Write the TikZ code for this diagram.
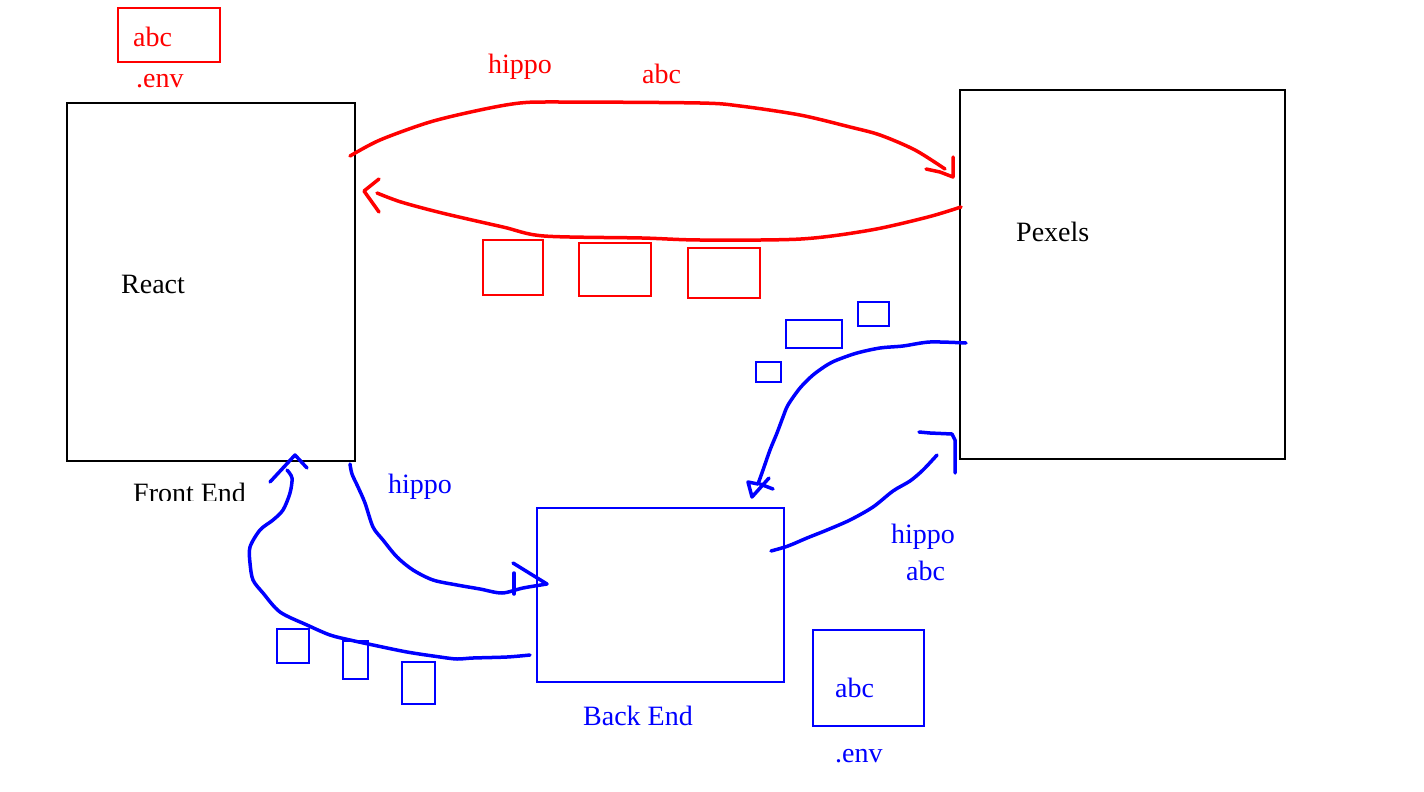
\documentclass[tikz,border=0pt]{standalone}
\usepackage{fontspec}
\setmainfont{Liberation Serif}
\begin{document}
\begin{tikzpicture}[x=1pt,y=-1pt,
  box/.style={draw, line width=2pt, inner sep=0pt, anchor=north west},
  lbl/.style={inner sep=0pt, anchor=base west, font=\fontsize{28}{32}\selectfont},
  redpen/.style={draw=red, line width=3.5pt, line cap=round, line join=round},
  bluepen/.style={draw=blue, line width=3.5pt, line cap=round, line join=round},
  smoothpath/.style={smooth, tension=0.5}]
\fill[white] (0,0) rectangle (1424,792);
\useasboundingbox (0,0) rectangle (1424,792);

% main boxes
\node[box, draw=black, minimum width=288pt, minimum height=358pt] (react) at (66,102) {};
\node[box, draw=black, minimum width=325pt, minimum height=369pt] (pexels) at (959,89) {};
\node[box, draw=blue, minimum width=247pt, minimum height=174pt] (backend) at (536,507) {};
\node[box, draw=red, minimum width=102pt, minimum height=54pt] (envfront) at (117,7) {};
\node[box, draw=blue, minimum width=111pt, minimum height=96pt] (envback) at (812,629) {};

% small red boxes
\node[box, draw=red, minimum width=60pt, minimum height=55pt] (r1) at (482,239) {};
\node[box, draw=red, minimum width=72pt, minimum height=53pt] (r2) at (578,242) {};
\node[box, draw=red, minimum width=72pt, minimum height=50pt] (r3) at (687,247) {};

% small blue boxes (upper right)
\node[box, draw=blue, minimum width=56pt, minimum height=28pt] (b1) at (785,319) {};
\node[box, draw=blue, minimum width=31pt, minimum height=24pt] (b2) at (857,301) {};
\node[box, draw=blue, minimum width=25pt, minimum height=20pt] (b3) at (755,361) {};
% small blue boxes (lower left)
\node[box, draw=blue, minimum width=32pt, minimum height=34pt] (b4) at (276,628) {};
\node[box, draw=blue, minimum width=25pt, minimum height=38pt] (b5) at (342,640) {};
\node[box, draw=blue, minimum width=33pt, minimum height=42pt] (b6) at (401,661) {};

% labels
\node[lbl, text=red] (tabc1) at (133,47) {abc};
\node[lbl, text=red] (tenv1) at (136,88) {.env};
\node[lbl] (treact) at (121,293) {React};
\begin{scope}
\clip (100,460) rectangle (300,500);
\node[lbl] (tfront) at (133,502) {Front End};
\end{scope}
\node[lbl] (tpexels) at (1016,241) {Pexels};
\node[lbl, text=red] (thippo1) at (488,74) {hippo};
\node[lbl, text=red] (tabc2) at (642,83) {abc};
\node[lbl, text=blue] (thippo2) at (388,493) {hippo};
\node[lbl, text=blue] (thippo3) at (891,543) {hippo};
\node[lbl, text=blue] (tabc3) at (906,580) {abc};
\node[lbl, text=blue] (tback) at (583,725) {Back End};
\node[lbl, text=blue] (tabc4) at (835,697) {abc};
\node[lbl, text=blue] (tenv2) at (835,762) {.env};

% red connectors: React -> Pexels (top)
\coordinate (a1s) at (350,156);
\coordinate (a1e) at (945,169);
\draw[redpen] plot[smoothpath] coordinates {(a1s) (380,140) (430,122) (480,110) (520,103) (560,102) (700,103) (740,106) (800,115) (850,127) (880,135) (915,150) (a1e)};
\draw[redpen] (926,169) -- (940,172) -- (953,177) -- (953,157);

% red connector: Pexels -> React (bottom)
\coordinate (a2s) at (961,207);
\coordinate (a2e) at (377,193);
\draw[redpen] plot[smoothpath] coordinates {(a2s) (928,217) (871,230) (801,239) (700,240) (642,238) (544,236) (503,227) (442,213) (401,202) (a2e)};
\draw[redpen] (379,179) -- (364,191) -- (379,212);

% blue connector: Front End -> Back End
\coordinate (a3s) at (350,464);
\coordinate (a3e) at (547,584);
\draw[bluepen] plot[smoothpath] coordinates {(a3s) (352,474) (358,487) (365,503) (373,527) (383,540) (397,557) (413,570) (433,580) (457,585) (480,589) (502,593) (523,588) (a3e)};
\draw[bluepen] (513,563) -- (a3e);
\draw[bluepen] (514,573) -- (514,594);

% blue connector: Back End -> Front End
\coordinate (a4s) at (530,655);
\coordinate (a4e) at (287,470);
\draw[bluepen] plot[smoothpath] coordinates {(a4s) (507,657) (473,658) (457,659) (440,657) (407,652) (373,645) (350,640) (330,635) (307,625) (280,612) (263,593) (253,580) (250,563) (250,547) (260,530) (273,520) (283,510) (290,493) (292,478) (a4e)};
\draw[bluepen] (270,482) -- (295,455) -- (307,468);

% blue connector: Pexels -> Back End
\coordinate (a5s) at (966,343);
\coordinate (a5e) at (758,484);
\draw[bluepen] plot[smoothpath] coordinates {(a5s) (930,342) (903,346) (880,348) (857,353) (837,360) (827,365) (813,375) (800,388) (788,405) (783,417) (777,433) (770,450) (763,470) (a5e)};
\draw[bluepen] (a5e) -- (748,482) -- (752,497) -- (769,478);
\draw[bluepen] (760,484) -- (773,489);

% blue connector: Back End -> Pexels
\coordinate (a6s) at (771,551);
\coordinate (a6e) at (937,455);
\draw[bluepen] plot[smoothpath] coordinates {(a6s) (788,546) (807,538) (827,530) (850,520) (873,507) (893,491) (910,481) (923,470) (a6e)};
\draw[bluepen] (919,432) -- (930,433) -- (952,434) -- (955,440) -- (955,473);
\end{tikzpicture}
\end{document}
